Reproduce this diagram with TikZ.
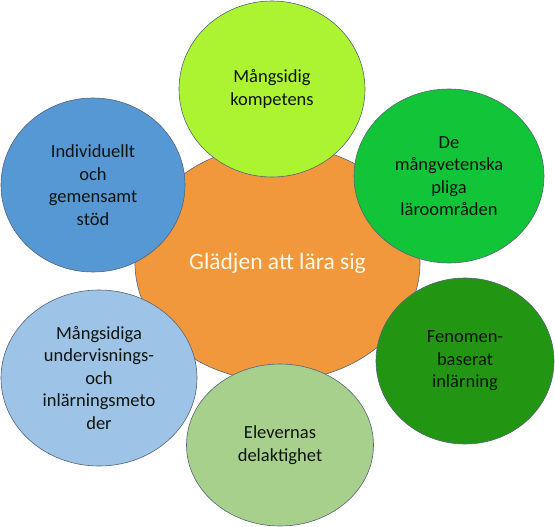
\documentclass[tikz,border=0pt]{standalone}
\usepackage{fontspec}
\setmainfont{Carlito}
\usetikzlibrary{shapes.geometric}
\definecolor{cOrange}{RGB}{242,152,60}
\definecolor{cLime}{RGB}{172,244,50}
\definecolor{cGreen}{RGB}{18,196,56}
\definecolor{cDark}{RGB}{34,150,18}
\definecolor{cSage}{RGB}{168,208,141}
\definecolor{cLight}{RGB}{157,195,230}
\definecolor{cBlue}{RGB}{86,152,212}
\definecolor{cEdge}{RGB}{85,100,120}
\definecolor{cText}{RGB}{15,20,15}
\tikzset{
  blob/.style={ellipse, draw=cEdge, line width=0.6pt, inner sep=0pt, align=center,
    text=cText, font=\fontsize{18.5}{22.5}\selectfont},
  hub/.style={ellipse, draw=cEdge, line width=0.6pt, inner sep=0pt, align=center,
    fill=cOrange, text={rgb,255:red,255;green,248;blue,235}, font=\fontsize{23.5}{28}\selectfont}
}
\begin{document}
\begin{tikzpicture}[x=1pt,y=-1pt]
\useasboundingbox (0,0) rectangle (555,527);
\node[hub, minimum width=285pt, minimum height=236pt] (hub) at (277.5,263) {Glädjen att lära sig};
\node[blob, fill=cLime, minimum width=186pt, minimum height=176pt] (a) at (272,89) {Mångsidig\\kompetens};
\node[blob, fill=cGreen, minimum width=190pt, minimum height=174pt] (b) at (449,176) {De\\mångvetenska\\pliga\\läroområden};
\node[blob, fill=cDark, minimum width=178pt, minimum height=166pt] (c) at (465,361) {Fenomen-\\baserat\\inlärning};
\node[blob, fill=cSage, minimum width=187pt, minimum height=162pt] (d) at (280,445) {Elevernas\\delaktighet};
\node[blob, fill=cLight, minimum width=196pt, minimum height=176pt] (e) at (99,378) {Mångsidiga\\undervisnings-\\och\\inlärningsmeto\\der};
\node[blob, fill=cBlue, minimum width=184pt, minimum height=174pt] (f) at (93,185) {Individuellt\\och\\gemensamt\\stöd};
\end{tikzpicture}
\end{document}
